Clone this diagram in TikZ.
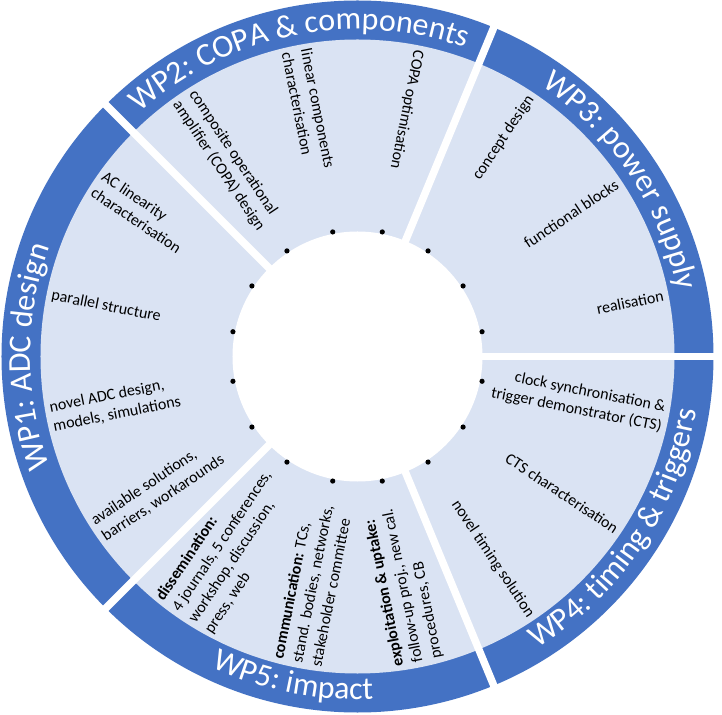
\documentclass[tikz,border=0pt]{standalone}
\usepackage{fontspec}
\setmainfont{Carlito}
\usepackage{xcolor}
\usepackage{tikz}
\usetikzlibrary{decorations.text}
\definecolor{wpband}{HTML}{4472C4}
\definecolor{wpfill}{HTML}{DAE3F3}
\newcommand{\wptitle}{\fontsize{32}{38}\selectfont}
\tikzset{
  task/.style={inner sep=0pt, font=\fontsize{16}{19.5}\selectfont},
  taskin/.style={task, anchor=west, align=left},
  taskout/.style={task, anchor=east, align=right},
  wplabel/.style={decorate, decoration={text along path, text align=center, text color=white, text={|\wptitle|#1}}}
}

\begin{document}
\begin{tikzpicture}
      \def\ro{356pt}
      \def\rb{317pt}
      \def\ri{125pt}
      \def\rt{312pt}

      \path[use as bounding box, fill=white] (-357.5pt,-357.5pt) rectangle (364.5pt,356.5pt);
      \fill[wpband] (0,0) circle (\ro);
      \fill[wpfill] (0,0) circle (\rb);
      \fill[white] (0,0) circle (\ri);
      \foreach \a in {0,67.5,135,225,292.5}
        \draw[white, line width=7.5pt] (\a:110pt) -- (\a:362pt);
      \foreach \a in {11.25,33.75,...,348.75}
        \fill (\a:127pt) circle (2.6pt);

      \path[wplabel={WP1: ADC design}] (225:327pt) arc[start angle=225, end angle=135, radius=327pt];
      \path[wplabel={WP2: COPA {\&} components}] (135:327pt) arc[start angle=135, end angle=67.5, radius=327pt];
      \path[wplabel={WP3: power supply}] (67.5:327pt) arc[start angle=67.5, end angle=0, radius=327pt];
      \path[wplabel={WP4: timing {\&} triggers}] (-67.5:343pt) arc[start angle=-67.5, end angle=0, radius=343pt];
      \path[wplabel={WP5: impact}] (-135:343pt) arc[start angle=-135, end angle=-67.5, radius=343pt];

      \node[taskin, rotate=-33.75] (ac) at (146.25:\rt) {AC linearity\\characterisation};
      \node[taskin, rotate=-11.25] (par) at (168.75:\rt) {parallel structure};
      \node[taskin, rotate=11.25] (nov) at (191.25:\rt) {novel ADC design,\\models, simulations};
      \node[taskin, rotate=33.75] (avail) at (213.75:\rt) {available solutions,\\barriers, workarounds};

      \node[taskin, rotate=-56.25] (copa) at (123.75:\rt) {composite operational\\amplifier (COPA) design};
      \node[taskin, rotate=-78.75] (lin) at (101.25:\rt) {linear components\\characterisation};
      \node[taskin, rotate=-101.25] (opt) at (78.75:\rt) {COPA optimisation};

      \node[taskout, rotate=56.25] (con) at (56.25:\rt) {concept design};
      \node[taskout, rotate=33.75] (fun) at (33.75:\rt) {functional blocks};
      \node[taskout, rotate=11.25] (real) at (11.25:\rt) {realisation};

      \node[taskout, rotate=-11.25] (clk) at (-11.25:\rt) {clock synchronisation \&\\trigger demonstrator (CTS)};
      \node[taskout, rotate=-33.75] (cts) at (-33.75:\rt) {CTS characterisation};
      \node[taskout, rotate=-56.25] (tim) at (-56.25:\rt) {novel timing solution};

      \node[taskin, rotate=56.25] (dis) at (236.25:\rt) {\textbf{dissemination:}\\4 journals, 5 conferences,\\workshop, discussion,\\press, web};
      \node[taskin, rotate=78.75] (com) at (258.75:\rt) {\textbf{communication:} TCs,\\stand. bodies, networks,\\stakeholder committee};
      \node[taskin, rotate=101.25] (exp) at (281.25:\rt) {\textbf{exploitation \& uptake:}\\follow-up proj., new cal.\\procedures, CB};
    \end{tikzpicture}
\end{document}
